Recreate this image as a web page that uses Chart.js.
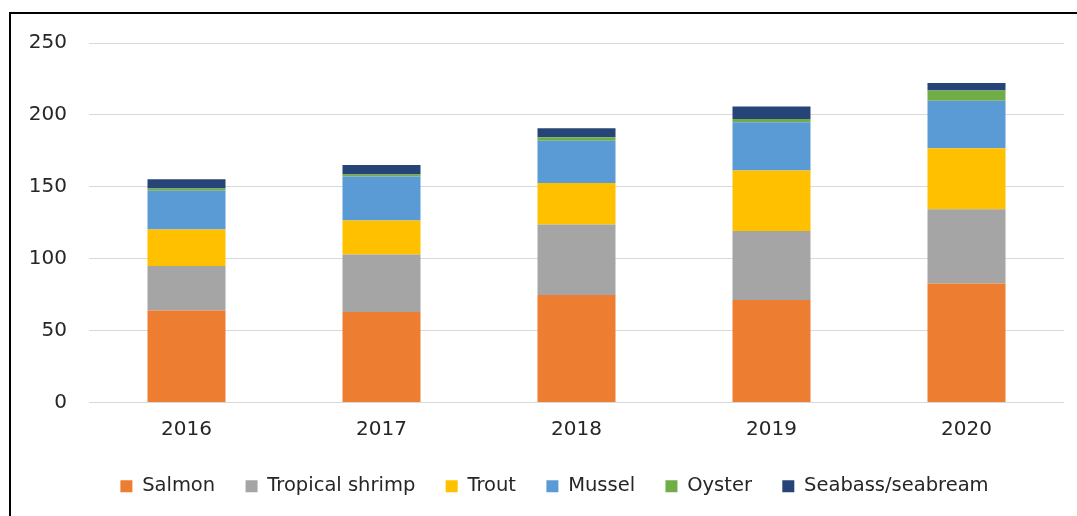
<!DOCTYPE html>
<html>
<head>
    <title>Aquaculture volumes 2016-2020</title>
    <script src="https://cdn.jsdelivr.net/npm/chart.js"></script>
    <style>
        body {
            margin: 0;
            background: #fff;
        }
        .frame {
            position: absolute;
            left: 9px;
            top: 12px;
            width: 1066px;
            height: 502px;
            border-left: 2px solid #000;
            border-top: 2px solid #000;
        }
    </style>
</head>
<body>
    <div class="frame">
        <canvas id="barChart" width="1066" height="502"></canvas>
    </div>
    <script>
        const years = ['2016', '2017', '2018', '2019', '2020'];
        const salmon = [64, 63, 74.7, 71.2, 82.8];
        const tropicalShrimp = [30.9, 40, 49.1, 48.1, 51.6];
        const trout = [25.4, 23.5, 28.8, 42.1, 42.4];
        const mussel = [26.9, 30.7, 29.5, 33.5, 33];
        const oyster = [1.7, 1.4, 2.3, 2.3, 7.1];
        const seabass = [6.3, 6.5, 6.3, 8.6, 5.2];

        const seriesNames = ['Salmon', 'Tropical shrimp', 'Trout', 'Mussel', 'Oyster', 'Seabass/seabream'];
        const seriesData = [salmon, tropicalShrimp, trout, mussel, oyster, seabass];
        const colors = ['#ED7D31', '#A5A5A5', '#FFC000', '#5B9BD5', '#70AD47', '#264478'];

        const font = { family: 'DejaVu Sans', size: 20 };

        // nudge the legend a bit right so it sits where the original one does
        const legendShift = {
            id: 'legendShift',
            afterLayout(chart) {
                chart.legend.left += 34;
            }
        };

        document.addEventListener("DOMContentLoaded", function() {
            const ctx = document.getElementById('barChart').getContext('2d');
            new Chart(ctx, {
                type: 'bar',
                data: {
                    labels: years,
                    datasets: seriesNames.map((name, i) => ({
                        label: name,
                        data: seriesData[i],
                        backgroundColor: colors[i],
                        borderWidth: 0,
                        barPercentage: 0.4,
                        categoryPercentage: 1
                    }))
                },
                plugins: [legendShift],
                options: {
                    responsive: false,
                    animation: false,
                    layout: {
                        padding: { top: 29, right: 13, bottom: 10, left: 0 }
                    },
                    scales: {
                        x: {
                            stacked: true,
                            grid: { display: false, drawTicks: false },
                            border: { display: false },
                            ticks: { font: font, color: '#262626', padding: 15 },
                            afterFit: function(scale) { scale.height = 56; }
                        },
                        y: {
                            stacked: true,
                            min: 0,
                            max: 250,
                            ticks: { stepSize: 50, font: font, color: '#262626', padding: 22 },
                            grid: { color: '#d9d9d9', drawTicks: false },
                            border: { display: false },
                            afterFit: function(scale) {
                                scale.width = 78;
                                scale.paddingTop = 0;
                                scale.paddingBottom = 0;
                            }
                        }
                    },
                    plugins: {
                        tooltip: { enabled: false },
                        legend: {
                            position: 'bottom',
                            labels: {
                                font: { family: 'DejaVu Sans', size: 19.5 },
                                color: '#262626',
                                boxWidth: 12,
                                boxHeight: 12,
                                padding: 18,
                                generateLabels: function(chart) {
                                    const items = Chart.defaults.plugins.legend.labels.generateLabels(chart);
                                    items.forEach((item, i) => {
                                        if (i < items.length - 1) item.text = item.text + '  ';
                                        item.lineWidth = 0;
                                    });
                                    return items;
                                }
                            }
                        }
                    }
                }
            });
        });
    </script>
</body>
</html>
